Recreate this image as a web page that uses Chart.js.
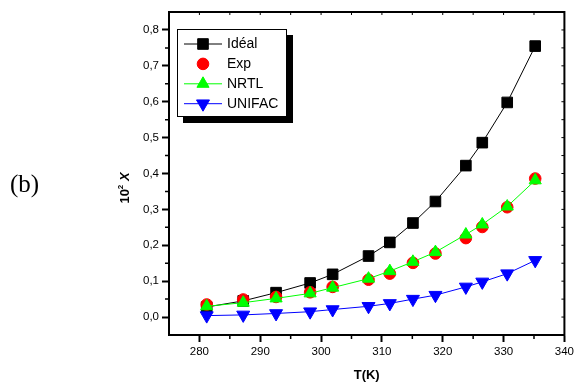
<!DOCTYPE html>
<html><head><meta charset="utf-8">
<script src="https://cdn.jsdelivr.net/npm/chart.js@4.4.0/dist/chart.umd.min.js"></script>
<style>html,body{margin:0;padding:0;background:#fff;}#wrap{width:577px;height:383px;position:relative;}</style>
</head><body><div id="wrap"><canvas id="c" width="577" height="383"></canvas></div>
<script>
const temperatures = [281.2, 287.2, 292.6, 298.2, 301.9, 307.8, 311.3, 315.1, 318.8, 323.8, 326.5, 330.6, 335.2];
const idealValues  = [0.028, 0.045, 0.068, 0.095, 0.119, 0.170, 0.208, 0.262, 0.322, 0.422, 0.486, 0.598, 0.755];
const expValues    = [0.035, 0.049, 0.056, 0.069, 0.084, 0.104, 0.121, 0.151, 0.177, 0.220, 0.251, 0.306, 0.386];
const nrtlValues   = [0.030, 0.040, 0.052, 0.066, 0.082, 0.107, 0.128, 0.154, 0.181, 0.230, 0.258, 0.308, 0.381];
const unifacValues = [0.004, 0.006, 0.010, 0.015, 0.021, 0.030, 0.038, 0.050, 0.061, 0.084, 0.098, 0.121, 0.158];
const seriesNames  = ['Idéal', 'Exp', 'NRTL', 'UNIFAC'];
const xTickValues  = [280, 290, 300, 310, 320, 330, 340];
const xMinorValues = [285, 295, 305, 315, 325, 335];
const yTickValues  = [0.0, 0.1, 0.2, 0.3, 0.4, 0.5, 0.6, 0.7, 0.8];
const yMinorValues = [0.05, 0.15, 0.25, 0.35, 0.45, 0.55, 0.65, 0.75];
const xLabel = 'T(K)';
const panelLabel = '(b)';

const FONT = '"Liberation Sans", Arial, sans-serif';
const pts = vals => temperatures.map((t, i) => ({x: t, y: vals[i]}));

const styles = [
  {color: '#000000', pointStyle: 'rect', radius: 7.5, rotation: 0, line: true},
  {color: '#ff0000', pointStyle: 'circle', radius: 5.8, rotation: 0, line: false},
  {color: '#00ff00', pointStyle: 'triangle', radius: 7, rotation: 0, line: true},
  {color: '#0000ff', pointStyle: 'triangle', radius: 7.5, rotation: 180, line: true}
];
const allValues = [idealValues, expValues, nrtlValues, unifacValues];

const datasets = allValues.map((vals, i) => ({
  label: seriesNames[i],
  data: pts(vals),
  showLine: styles[i].line,
  borderColor: styles[i].color,
  backgroundColor: styles[i].color,
  borderWidth: 1,
  pointStyle: styles[i].pointStyle,
  pointRotation: styles[i].rotation,
  pointRadius: styles[i].radius,
  pointBackgroundColor: styles[i].color,
  pointBorderColor: styles[i].color,
  pointBorderWidth: 1,
  order: 4 - i
}));

const decor = {
  id: 'decor',
  afterDraw(chart) {
    const ctx = chart.ctx, a = chart.chartArea;
    const xs = chart.scales.x, ys = chart.scales.y;
    ctx.save();
    // frame top/right
    ctx.strokeStyle = '#000'; ctx.lineWidth = 2;
    ctx.beginPath();
    ctx.moveTo(a.left - 1, a.top); ctx.lineTo(a.right, a.top); ctx.lineTo(a.right, a.bottom + 1);
    ctx.stroke();
    // minor ticks outward (bottom/left)
    ctx.lineWidth = 1.5;
    ctx.beginPath();
    xMinorValues.forEach(v => { const p = xs.getPixelForValue(v); ctx.moveTo(p, a.bottom); ctx.lineTo(p, a.bottom + 4); });
    yMinorValues.forEach(v => { const p = ys.getPixelForValue(v); ctx.moveTo(a.left, p); ctx.lineTo(a.left - 4, p); });
    ctx.stroke();
    // mirrored ticks inward on top/right
    ctx.lineWidth = 1;
    ctx.beginPath();
    xTickValues.concat(xMinorValues).forEach(v => { const p = xs.getPixelForValue(v); ctx.moveTo(p, a.top); ctx.lineTo(p, a.top + 3); });
    yTickValues.concat(yMinorValues).forEach(v => { const p = ys.getPixelForValue(v); ctx.moveTo(a.right, p); ctx.lineTo(a.right - 3, p); });
    ctx.stroke();

    // legend
    const bx = a.left + 8, by = a.top + 17, bw = 110, bh = 88;
    ctx.fillStyle = '#000';
    ctx.fillRect(bx + 6, by + 6, bw, bh);
    ctx.fillStyle = '#fff';
    ctx.fillRect(bx, by, bw, bh);
    ctx.strokeStyle = '#000'; ctx.lineWidth = 1;
    ctx.strokeRect(bx + 0.5, by + 0.5, bw - 1, bh - 1);
    ctx.font = '14px ' + FONT;
    ctx.textBaseline = 'middle'; ctx.textAlign = 'left';
    seriesNames.forEach((name, i) => {
      const y = by + 15 + i * 19.9;
      const st = styles[i];
      if (st.line) {
        ctx.strokeStyle = st.color; ctx.lineWidth = 1;
        ctx.beginPath(); ctx.moveTo(bx + 7, y); ctx.lineTo(bx + 45, y); ctx.stroke();
      }
      ctx.fillStyle = st.color; ctx.strokeStyle = st.color; ctx.lineWidth = 1;
      Chart.helpers.drawPoint(ctx, {pointStyle: st.pointStyle, rotation: st.rotation, radius: st.radius, borderWidth: 1}, bx + 26, y);
      ctx.fillStyle = '#000';
      ctx.fillText(name, bx + 50, y + 0.5);
    });

    // y title: 10^2 X rotated
    ctx.save();
    ctx.translate(124, 188);
    ctx.rotate(-Math.PI / 2);
    ctx.fillStyle = '#000';
    ctx.textBaseline = 'alphabetic'; ctx.textAlign = 'left';
    const f1 = 'bold 13px ' + FONT, f2 = 'bold 8px ' + FONT, f3 = 'italic bold 13px ' + FONT;
    ctx.font = f1; const w1 = ctx.measureText('10').width;
    ctx.font = f2; const w2 = ctx.measureText('2').width;
    ctx.font = f3; const w3 = ctx.measureText(' X').width;
    let x0 = -(w1 + w2 + w3) / 2;
    ctx.font = f1; ctx.fillText('10', x0, 5);
    ctx.font = f2; ctx.fillText('2', x0 + w1, -1);
    ctx.font = f3; ctx.fillText(' X', x0 + w1 + w2, 5);
    ctx.restore();

    // panel label
    ctx.font = '25px "Liberation Serif", "Times New Roman", serif';
    ctx.fillStyle = '#000';
    ctx.textBaseline = 'alphabetic'; ctx.textAlign = 'left';
    ctx.fillText(panelLabel, 10, 192);
    ctx.restore();
  }
};

new Chart(document.getElementById('c'), {
  type: 'scatter',
  data: {datasets},
  options: {
    responsive: false,
    devicePixelRatio: 1,
    animation: false,
    layout: {padding: {left: 0, right: 11, top: 12, bottom: 0}},
    plugins: {legend: {display: false}, tooltip: {enabled: false}},
    scales: {
      x: {
        type: 'linear', min: 275, max: 340,
        afterBuildTicks: s => { s.ticks = xTickValues.map(v => ({value: v})); },
        afterFit: s => { s.height = 48; },
        grid: {drawOnChartArea: false, drawTicks: true, tickLength: 7, tickWidth: 2, tickColor: '#000'},
        border: {display: true, color: '#000', width: 2},
        ticks: {color: '#000', padding: 3, font: {family: FONT, size: 11.5}, maxRotation: 0, callback: v => String(v)},
        title: {display: true, text: xLabel, color: '#000', font: {family: FONT, size: 13, weight: 'bold'}, padding: {top: 0, bottom: 0}}
      },
      y: {
        type: 'linear', min: -0.05, max: 0.85,
        afterBuildTicks: s => { s.ticks = yTickValues.map(v => ({value: v})); },
        afterFit: s => { s.width = 169; },
        grid: {drawOnChartArea: false, drawTicks: true, tickLength: 7, tickWidth: 2, tickColor: '#000'},
        border: {display: true, color: '#000', width: 2},
        ticks: {color: '#000', padding: 3, font: {family: FONT, size: 11.5}, callback: v => v.toFixed(1).replace('.', ',')}
      }
    }
  },
  plugins: [decor]
});
</script>
</body></html>
